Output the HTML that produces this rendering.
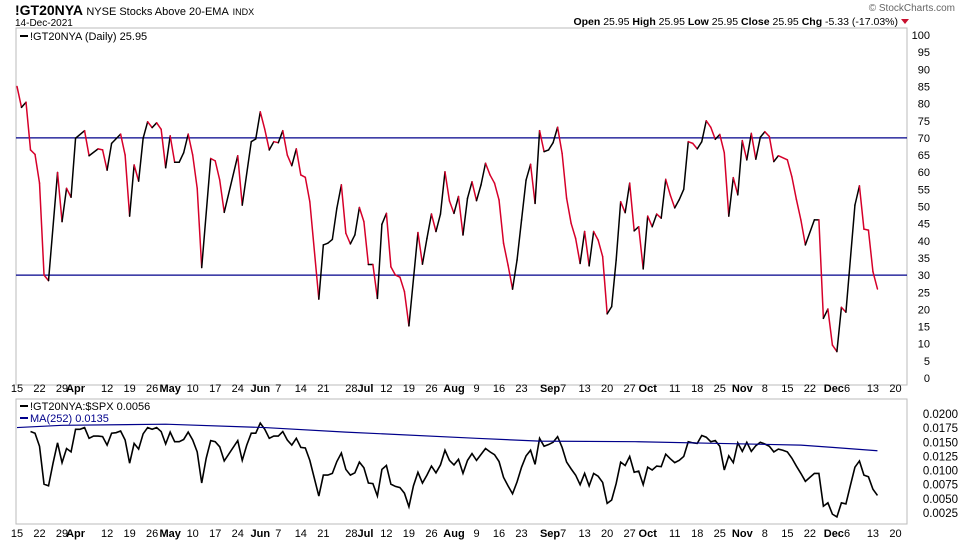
<!DOCTYPE html>
<html><head><meta charset="utf-8"><style>
body{margin:0;background:#fff;}
svg{display:block;font-family:"Liberation Sans",sans-serif;}
</style></head><body>
<svg id="c" width="960" height="540" viewBox="0 0 960 540">
<text x="15" y="15" font-size="14" font-weight="bold">!GT20NYA <tspan font-size="11" font-weight="normal">NYSE Stocks Above 20-EMA</tspan> <tspan font-size="9" font-weight="normal">INDX</tspan></text>
<text x="15" y="26" font-size="10">14-Dec-2021</text>
<text x="955" y="11" font-size="10" fill="#666" text-anchor="end">© StockCharts.com</text>
<text x="898" y="25" font-size="10.5" text-anchor="end"><tspan font-weight="bold">Open</tspan> 25.95 <tspan font-weight="bold">High</tspan> 25.95 <tspan font-weight="bold">Low</tspan> 25.95 <tspan font-weight="bold">Close</tspan> 25.95 <tspan font-weight="bold">Chg</tspan> -5.33 (-17.03%)</text>
<path d="M901 19 L909 19 L905 24 Z" fill="#c8102e"/>
<g id="topPanel"></g>
<g id="botPanel"></g>
</svg>
<script>
const days=[0,1,2,3,4,5,6,7,9,10,11,12,13,15,16,18,19,20,21,23,24,25,26,27,28,29,30,31,32,33,34,35,36,37,38,39,40,41,43,44,45,46,49,50,52,53,54,55,56,57,58,59,60,61,62,63,64,65,67,68,69,70,71,72,73,74,75,76,77,78,79,80,81,82,83,84,85,86,87,89,90,91,92,93,94,95,96,97,98,99,100,101,102,103,104,105,106,107,108,109,110,111,112,113,114,115,116,117,118,119,120,121,122,123,124,125,126,127,128,129,130,131,132,133,134,135,136,137,138,139,140,141,142,143,144,145,146,147,148,149,150,151,152,153,154,155,156,157,158,159,160,161,162,163,164,165,166,167,168,169,171,172,173,174,175,177,178,179,180,181,182,183,184,186,187,188,189,190,191];
const values=[85,78.9,80.4,66.5,65.2,56.8,30,28.4,59.9,45.6,55.3,52.7,69.9,72.1,64.8,66.8,66.5,60.6,68.4,71.1,65,47.2,62.1,57.4,69.9,74.7,73,74.4,72.5,61.3,70.6,62.9,62.9,65.7,71.1,65,55.3,32.2,64,63.3,57.7,48.3,64.8,50.4,68.9,69.7,77.6,72.5,66.5,68.9,68.6,72.1,65,61.9,66.8,59.2,58.5,51.4,23,38.8,39.3,40.4,49.5,56.3,42.2,39.1,41.7,49.7,45.6,33.1,33.1,23.2,44.8,48,32.4,30,29.4,25.2,15.2,42.4,33.2,40.7,47.8,42.7,47.8,60.1,51.6,48,52.9,41.7,52.4,57.2,51.7,56.3,62.6,59.2,56.8,51.9,39.3,32.9,25.9,34.4,46.1,57.7,62.3,50.9,72.1,66,66.5,68.6,73.1,65.5,52.4,45.1,40.7,33.4,42.7,32.7,42.7,40.2,35.4,18.7,20.8,34.4,51.4,48.2,56.8,42.9,44.1,31.8,47.2,44.1,47.8,46.6,57.9,53.4,49.6,52,55,68.9,68.4,66.8,68.9,75,73.1,69.6,71,65.7,47.2,58.4,53.4,69.2,63.6,71.3,63.8,70.2,71.8,70.4,63.1,64.8,63.6,58.7,52.1,46.1,38.8,46.1,46.1,17.4,20.1,9.6,7.7,20.6,19.2,50.4,56,43.4,43.1,31,25.95];
const ratioDays=[3,4,5,6,7,8,9,10,11,12,13,14,15,16,17,18,19,20,21,22,23,24,25,26,27,28,29,30,31,32,33,34,35,36,37,38,39,40,41,42,43,44,45,46,49,50,51,52,53,54,55,56,57,58,59,60,61,62,63,64,65,67,68,69,70,71,72,73,74,75,76,77,78,79,80,81,82,83,84,85,86,87,88,89,90,91,92,93,94,95,96,97,98,99,100,101,102,104,105,106,107,108,109,110,111,112,113,114,115,116,117,118,119,120,121,122,123,124,125,126,127,128,129,130,131,132,133,134,135,136,137,138,139,140,141,142,143,144,145,146,147,148,149,150,151,152,153,154,155,156,157,158,159,160,161,162,163,164,165,166,167,168,169,170,171,172,173,174,175,176,177,178,179,180,181,182,183,184,185,186,187,188,189,190,191];
const ratioValues=[.0169,.0166,.0143,.0076,.0073,.0113,.0149,.0114,.0139,.0133,.0173,.0173,.0176,.0157,.0161,.0161,.016,.0145,.0166,.0167,.017,.0154,.0113,.0148,.0138,.0165,.0176,.0173,.0176,.0169,.0147,.0168,.0151,.0151,.0155,.0168,.0154,.0133,.0078,.0122,.0153,.0151,.0142,.0117,.0153,.0118,.0145,.0166,.0166,.0184,.0173,.0157,.0161,.0161,.0169,.0154,.0145,.0157,.0141,.014,.0118,.0055,.0092,.0092,.0095,.0116,.0131,.0102,.0092,.0096,.0115,.0105,.0078,.0077,.0055,.0102,.0109,.0076,.0072,.007,.006,.0036,.0073,.0097,.0078,.0092,.0108,.0096,.011,.0136,.0118,.011,.012,.0095,.0118,.013,.0118,.0139,.0133,.0128,.0116,.0088,.0073,.0059,.008,.0106,.0126,.0136,.0111,.0157,.0143,.0146,.015,.016,.0141,.0115,.0103,.0092,.0075,.0095,.0073,.0095,.009,.0079,.0042,.0048,.0077,.0115,.0109,.0125,.0097,.0099,.0075,.0106,.0101,.0108,.0107,.0129,.0121,.0114,.0118,.0125,.0151,.0149,.0148,.0162,.0159,.0151,.0153,.0143,.0101,.0126,.0114,.0149,.0134,.015,.0134,.0144,.015,.0147,.0143,.0133,.0138,.0136,.0133,.0122,.0108,.0095,.0081,.0088,.0095,.0095,.0037,.0043,.0023,.0018,.0043,.0041,.0074,.0106,.0117,.0092,.0089,.0067,.0056];
const maDays=[0,10,33,55,73,102,116,138,156,174,181,191];
const maValues=[.0176,.018,.0182,.0176,.0168,.0157,.0152,.0151,.0148,.0145,.0141,.0135];
const topTicks=[0,5,10,15,20,25,30,35,40,45,50,55,60,65,70,75,80,85,90,95,100];
const botTicks=[.0025,.005,.0075,.01,.0125,.015,.0175,.02];
const xLabelDays=[0,5,10,13,20,25,30,34,39,44,49,54,58,63,68,76,82,87,92,97,102,107,112,119,126,131,136,140,146,151,156,161,166,171,176,182,190,195];
const xLabelText=["15","22","29","Apr","12","19","26","May","10","17","24","Jun","7","14","21","28Jul","12","19","26","Aug","9","16","23","Sep7","13","20","27","Oct","11","18","25","Nov","8","15","22","Dec6","13","20"];
const NS="http://www.w3.org/2000/svg";
const X0=16,X1=907;
const xs=i=>17+i*4.505;
const yTop=v=>378-v*3.43;
const yBot=v=>414+(0.02-v)*5657;
function mk(tag,attrs,parent){const e=document.createElementNS(NS,tag);for(const k in attrs)e.setAttribute(k,attrs[k]);parent.appendChild(e);return e;}
const topG=document.getElementById('topPanel'),botG=document.getElementById('botPanel');
let r=mk('rect',{x:X0,y:28,width:X1-X0,height:357,fill:'none',stroke:'#bbb'},topG);


r=mk('rect',{x:X0,y:399,width:X1-X0,height:125,fill:'none',stroke:'#bbb'},botG);


[70,30].forEach(v=>{const l=mk('line',{x1:X0,x2:X1,y1:yTop(v),y2:yTop(v),stroke:'#00008b','stroke-width':1.2},topG);

});
topTicks.forEach(v=>{const t=mk('text',{x:930,y:yTop(v)+4,'font-size':11,'text-anchor':'end'},topG);t.textContent=v;

});
botTicks.forEach(v=>{const t=mk('text',{x:958,y:yBot(v)+4,'font-size':11.5,'text-anchor':'end'},botG);t.textContent=v.toFixed(4);

});
[392,537].forEach(yy=>{xLabelDays.forEach((d,k)=>{const s=xLabelText[k];const t=mk('text',{x:xs(d),y:yy,'font-size':11,'text-anchor':'middle'},topG);
const m=s.match(/^(\d*)([A-Za-z]*)(\d*)$/);
if(m&&m[2]){
if(m[1]){const a=mk('tspan',{},t);a.textContent=m[1];}
const b=mk('tspan',{'font-weight':'bold'},t);b.textContent=m[2];
if(m[3]){const c=mk('tspan',{},t);c.textContent=m[3];}}else t.textContent=s;

});});
for(let k=1;k<days.length;k++){const up=values[k]>=values[k-1];
const l=mk('line',{x1:xs(days[k-1]),y1:yTop(values[k-1]),x2:xs(days[k]),y2:yTop(values[k]),stroke:up?'#000':'#d6002a','stroke-width':1.5,'stroke-linecap':'round'},topG);

}
let p=mk('polyline',{points:ratioDays.map((d,k)=>xs(d)+','+yBot(ratioValues[k])).join(' '),fill:'none',stroke:'#000','stroke-width':1.6},botG);


p=mk('polyline',{points:maDays.map((d,k)=>xs(d)+','+yBot(maValues[k])).join(' '),fill:'none',stroke:'#00008b','stroke-width':1.2},botG);


function leg(y,color,txt,parent,name){mk('line',{x1:20,x2:28,y1:y-4,y2:y-4,stroke:color,'stroke-width':2},parent);
const t=mk('text',{x:30,y:y,'font-size':11,fill:color},parent);t.textContent=txt;

}
leg(40,'#000','!GT20NYA (Daily) 25.95',topG,'main-legend');
leg(410,'#000','!GT20NYA:$SPX 0.0056',botG,'ratio-legend');
leg(422,'#00008b','MA(252) 0.0135',botG,'ma-legend');
</script>
</body></html>
